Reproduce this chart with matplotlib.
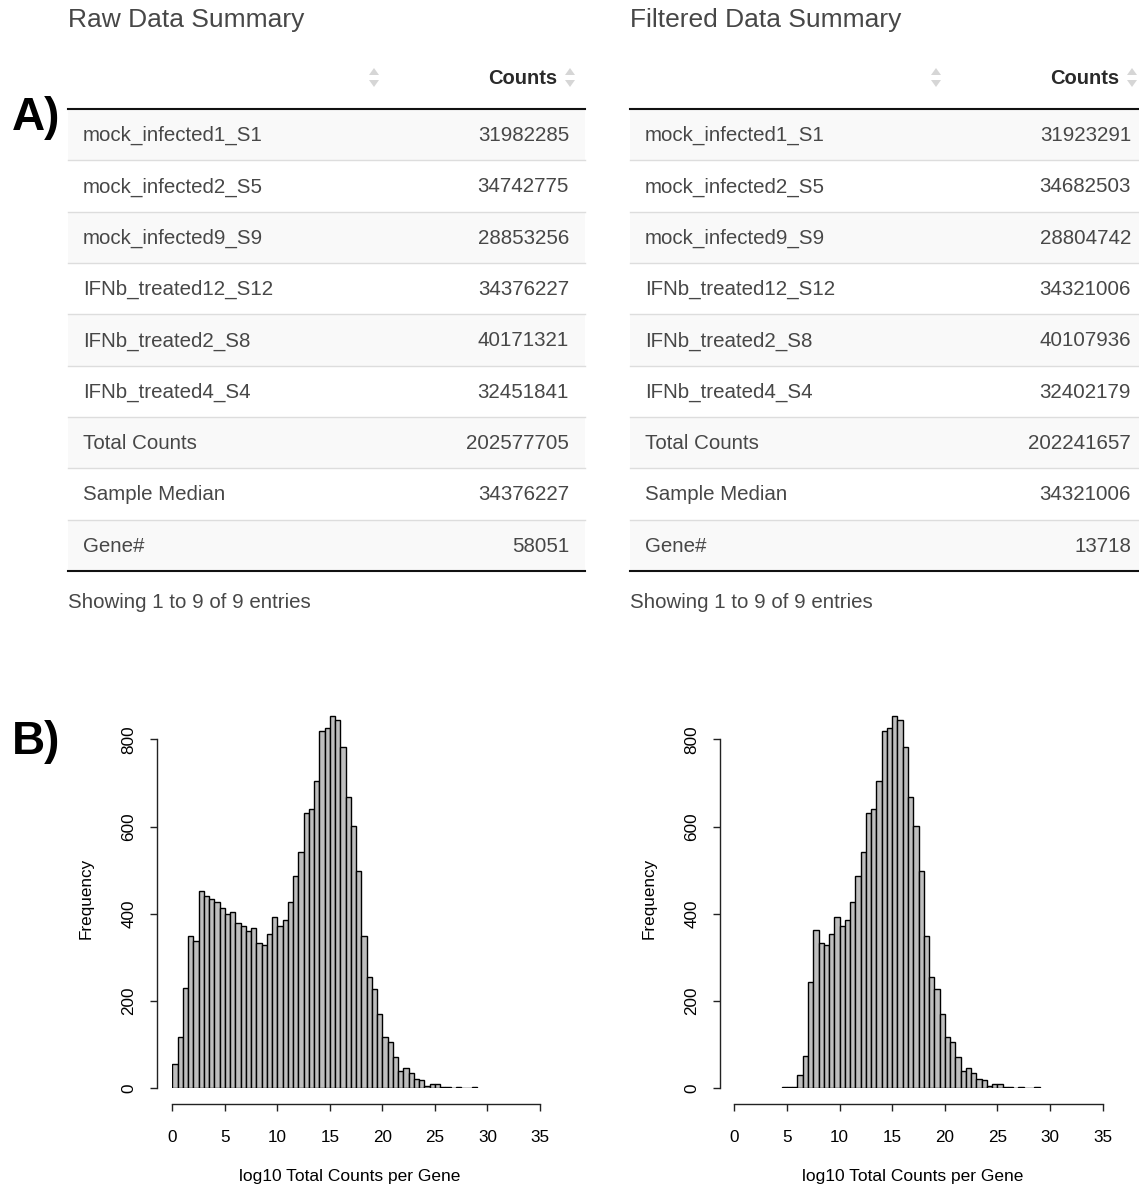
import numpy as np
import matplotlib
matplotlib.use("Agg")
import matplotlib.pyplot as plt
from matplotlib.patches import Rectangle, Polygon

plt.rcParams['font.family'] = ['Liberation Sans', 'DejaVu Sans']

# ---------------- data ----------------
row_labels = ["mock_infected1_S1", "mock_infected2_S5", "mock_infected9_S9",
              "IFNb_treated12_S12", "IFNb_treated2_S8", "IFNb_treated4_S4",
              "Total Counts", "Sample Median", "Gene#"]
raw_counts = [31982285, 34742775, 28853256, 34376227, 40171321, 32451841,
              202577705, 34376227, 58051]
filt_counts = [31923291, 34682503, 28804742, 34321006, 40107936, 32402179,
               202241657, 34321006, 13718]
table_titles = ["Raw Data Summary", "Filtered Data Summary"]
count_header = "Counts"
footer_text = "Showing 1 to 9 of 9 entries"

# histogram bins: width 0.5 starting at given value
bin_width = 0.5
raw_hist_start = 0.0
raw_hist = [56, 117, 229, 350, 338, 453, 441, 434, 426, 413,
            400, 403, 378, 372, 361, 368, 332, 329, 353, 393,
            372, 386, 426, 487, 542, 630, 640, 704, 819, 825,
            853, 844, 782, 667, 601, 497, 348, 254, 227, 170,
            117, 105, 71, 40, 46, 34, 22, 18, 6, 9,
            9, 3, 2, 1, 2, 0, 1, 2]
filt_hist_start = 4.5
filt_hist = [3, 3, 2, 31, 74, 244, 363,
             332, 329, 353, 393, 372, 386, 426, 487, 542, 630,
             640, 704, 819, 825, 853, 844, 782, 667, 601, 497,
             348, 254, 227, 170, 117, 105, 71, 40, 46, 34,
             22, 18, 6, 9, 9, 3, 2, 1, 2, 0, 1, 2]
x_ticks = [0, 5, 10, 15, 20, 25, 30, 35]
y_ticks = [0, 200, 400, 600, 800]
x_label = "log10 Total Counts per Gene"
y_label = "Frequency"

# ---------------- figure ----------------
W, H = 1139, 1189
fig = plt.figure(figsize=(W / 100, H / 100), dpi=100)

# overlay axes in pixel coordinates for the tables
tab = fig.add_axes([0, 0, 1, 1])
tab.set_xlim(0, W)
tab.set_ylim(H, 0)
tab.axis('off')

txt_col = '#474747'
row_h = (571 - 109) / 9.0


def sort_icon(ax, cx, cy=78):
    col = '#d6d6d6'
    ax.add_patch(Polygon([[cx - 5, cy - 3], [cx + 5, cy - 3], [cx, cy - 10]],
                         closed=True, color=col, lw=0))
    ax.add_patch(Polygon([[cx - 5, cy + 2], [cx + 5, cy + 2], [cx, cy + 9]],
                         closed=True, color=col, lw=0))


def draw_table(ax, x0, x1, title, values, icon1, icon2):
    ax.text(x0, 20, title, fontsize=19, color=txt_col, ha='left', va='center')
    ax.text(icon2 - 13, 79, count_header, fontsize=14.5, fontweight='bold',
            color='#2a2a2a', ha='right', va='center')
    sort_icon(ax, icon1)
    sort_icon(ax, icon2)
    for i, (lab, val) in enumerate(zip(row_labels, values)):
        top = 109 + i * row_h
        if i % 2 == 0:
            ax.add_patch(Rectangle((x0, top), x1 - x0, row_h,
                                   facecolor='#f9f9f9', edgecolor='none'))
        if i > 0:
            ax.plot([x0, x1], [top, top], color='#dddddd', lw=1.0)
        cy = top + row_h / 2 + 1
        ax.text(x0 + 15, cy, lab, fontsize=14.8, color=txt_col,
                ha='left', va='center')
        ax.text(x1 - 16, cy, str(val), fontsize=14.8, color=txt_col,
                ha='right', va='center')
    ax.plot([x0, x1], [108.5, 108.5], color='#111111', lw=1.5)
    ax.plot([x0, x1], [571, 571], color='#111111', lw=1.5)
    ax.text(x0, 603, footer_text, fontsize=14.8, color=txt_col,
            ha='left', va='center')


draw_table(tab, 68, 585, table_titles[0], raw_counts, 374, 570)
draw_table(tab, 630, 1147, table_titles[1], filt_counts, 936, 1132)

tab.text(12, 118, "A)", fontsize=33, fontweight='bold', color='black',
         ha='left', va='center')
tab.text(12, 742, "B)", fontsize=33, fontweight='bold', color='black',
         ha='left', va='center')


# ---------------- histograms ----------------
def draw_hist(x_left_px, x_right_px, start, counts, yspine_off_px, xlab_center_px):
    y0_px = 1088.3
    px_per_unit = (1088.3 - 739.3) / 800.0
    ytop = 870
    top_px = y0_px - ytop * px_per_unit
    ax = fig.add_axes([x_left_px / W, (H - y0_px) / H,
                       (x_right_px - x_left_px) / W, (y0_px - top_px) / H])
    edges = start + bin_width * np.arange(len(counts))
    ax.bar(edges, counts, width=bin_width, align='edge', color='#bebebe',
           edgecolor='black', linewidth=1.0)
    ax.set_xlim(0, 35)
    ax.set_ylim(0, ytop)
    for s in ['top', 'right']:
        ax.spines[s].set_visible(False)
    ax.spines['left'].set_position(('outward', yspine_off_px * 0.72))
    ax.spines['bottom'].set_position(('outward', 15.7 * 0.72))
    ax.spines['left'].set_bounds(0, 800)
    ax.spines['bottom'].set_bounds(0, 35)
    for s in ['left', 'bottom']:
        ax.spines[s].set_linewidth(1.0)
        ax.spines[s].set_color('#222222')
    ax.set_xticks(x_ticks)
    ax.set_yticks(y_ticks)
    ax.set_xticklabels([str(t) for t in x_ticks], fontsize=12.3)
    ax.set_yticklabels([str(t) for t in y_ticks], fontsize=12.3,
                       rotation=90, va='center')
    ax.tick_params(axis='both', length=5, width=1.0, color='#222222')
    ax.tick_params(axis='x', pad=14)
    ax.tick_params(axis='y', pad=10)
    ax.set_xlabel(x_label, fontsize=12.5, labelpad=18)
    ax.set_ylabel(y_label, fontsize=12.3, labelpad=20)
    xc = (xlab_center_px - x_left_px) / (x_right_px - x_left_px)
    ax.xaxis.set_label_coords(xc, -0.2, transform=ax.transAxes)
    ax.xaxis.label.set_va('center')
    ax.xaxis.set_label_coords(xc, (y0_px - 1177) / (y0_px - top_px))
    ax.patch.set_alpha(0)
    return ax


draw_hist(172.3, 540.0, raw_hist_start, raw_hist, 15.3, 349.5)
draw_hist(734.3, 1102.7, filt_hist_start, filt_hist, 14.3, 912.5)

fig.savefig("out.png", dpi=100)
